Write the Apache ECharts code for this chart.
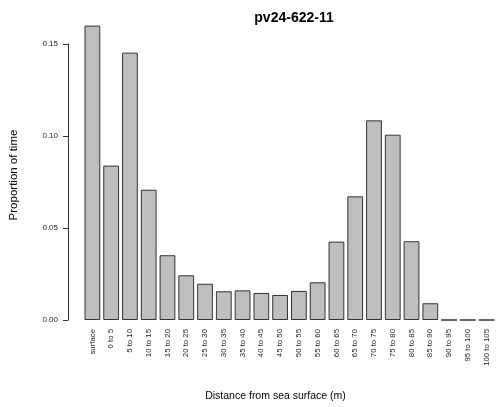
<!DOCTYPE html>
<html lang="en">
<head>
    <meta charset="utf-8">
    <title>pv24-622-11</title>
    <script src="https://cdn.jsdelivr.net/npm/echarts@6/dist/echarts.min.js"></script>
    <style>
        html, body { margin: 0; padding: 0; background: #fff; }
        #chart { width: 496px; height: 407px; }
    </style>
</head>
<body>
    <div id="chart"></div>
    <script>
        // depth bins (m)
        var depthBins = ['surface', '0 to 5', '5 to 10', '10 to 15', '15 to 20', '20 to 25',
            '25 to 30', '30 to 35', '35 to 40', '40 to 45', '45 to 50', '50 to 55',
            '55 to 60', '60 to 65', '65 to 70', '70 to 75', '75 to 80', '80 to 85',
            '85 to 90', '90 to 95', '95 to 100', '100 to 105'];
        // proportion of time in each bin
        var proportion = [0.160, 0.0839, 0.1453, 0.0708, 0.0352, 0.0243,
            0.0197, 0.0156, 0.0161, 0.0147, 0.0136, 0.0158,
            0.0205, 0.0426, 0.0672, 0.1085, 0.1007, 0.0428,
            0.0091, 0, 0, 0];
        var yTicks = [0, 0.05, 0.10, 0.15];

        var font = '"Liberation Sans", Arial, sans-serif';
        var chart = echarts.init(document.getElementById('chart'));

        var option = {
            animation: false,
            backgroundColor: '#ffffff',
            title: {
                text: 'pv24-622-11',
                left: 289,
                top: 6,
                textAlign: 'center',
                textStyle: { fontFamily: font, fontSize: 14, fontWeight: 'bold', color: '#000' }
            },
            grid: {
                left: 82.5,
                width: 416,
                top: 44,
                bottom: 87
            },
            xAxis: {
                type: 'category',
                data: depthBins,
                axisLine: { show: false },
                axisTick: { show: false },
                axisLabel: {
                    rotate: 90,
                    interval: 0,
                    margin: 9,
                    fontFamily: font,
                    fontSize: 7.8,
                    color: '#222'
                },
                name: 'Distance from sea surface (m)',
                nameLocation: 'middle',
                nameGap: 71,
                nameTextStyle: {
                    fontFamily: font, fontSize: 10.5, color: '#000',
                    padding: [0, 28, 0, 0]
                }
            },
            yAxis: {
                type: 'value',
                min: yTicks[0],
                max: yTicks[yTicks.length - 1],
                interval: 0.05,
                offset: 15,
                splitLine: { show: false },
                axisLine: { show: true, lineStyle: { color: '#333', width: 1 } },
                axisTick: { show: true, length: 5, lineStyle: { color: '#333' } },
                axisLabel: {
                    margin: 10,
                    fontFamily: font,
                    fontSize: 8,
                    color: '#222',
                    formatter: function (v) { return v.toFixed(2); }
                },
                name: 'Proportion of time',
                nameLocation: 'middle',
                nameGap: 48,
                nameTextStyle: { fontFamily: font, fontSize: 11.5, color: '#000', padding: [0, 0, 0, 14] }
            },
            series: [{
                type: 'bar',
                data: proportion,
                barCategoryGap: '16%',
                clip: false,
                itemStyle: {
                    color: '#bebebe',
                    borderColor: '#333',
                    borderWidth: 1
                }
            }]
        };
        chart.setOption(option);
    </script>
</body>
</html>
